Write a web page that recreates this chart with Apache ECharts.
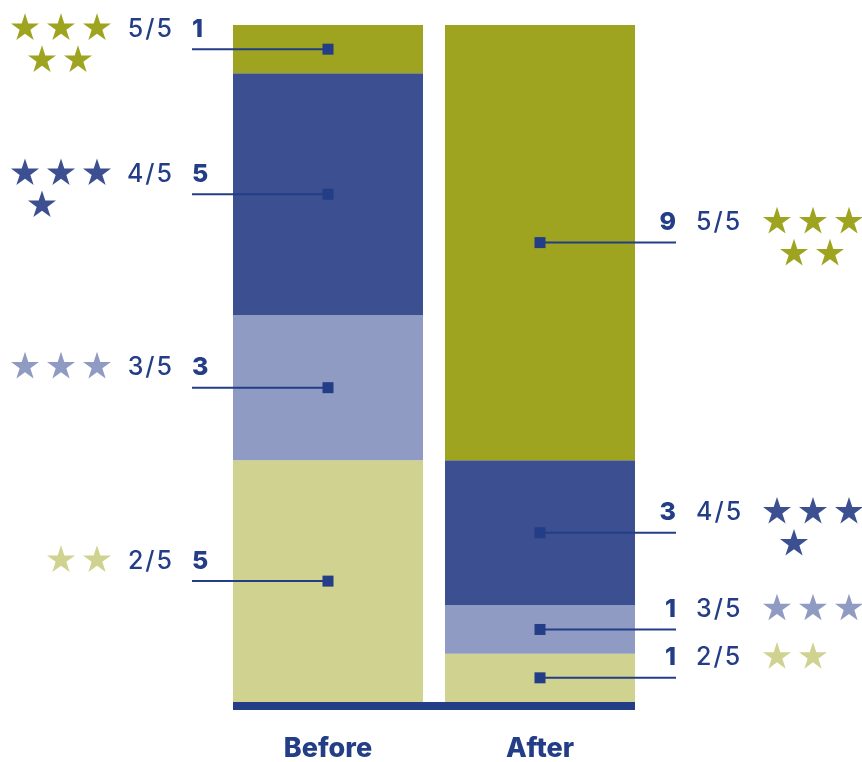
<!DOCTYPE html>
<html>
<head>
<meta charset="utf-8">
<script src="https://cdn.jsdelivr.net/npm/echarts@6/dist/echarts.min.js"></script>
<style>
html,body{margin:0;padding:0;background:#fff;}
#chart{width:862px;height:762px;}
</style>
</head>
<body>
<div id="chart"></div>
<script>
// ---- data ----
const categories = ['Before', 'After'];
const ratingLabels = ['2/5', '3/5', '4/5', '5/5'];
const starCounts = [2, 3, 4, 5];
const rating2 = [5, 1];
const rating3 = [3, 1];
const rating4 = [5, 3];
const rating5 = [1, 9];

// ---- styles ----
const colors = ['#D0D28F', '#8F9BC2', '#3B4F91', '#9EA41F'];
const textColor = '#233D86';
const FONT = 'Inter, "Noto Sans", sans-serif';
const STAR = 'M0,-1 L0.2245,-0.309 L0.9511,-0.309 L0.3633,0.118 L0.5878,0.809 L0,0.382 L-0.5878,0.809 L-0.3633,0.118 L-0.9511,-0.309 L-0.2245,-0.309 Z';
const BAR_W = 190;

const seriesValues = [rating2, rating3, rating4, rating5];

// annotation data: [catIndex, lo, hi, stars, ratingIndex, value]
const annData = [];
categories.forEach((c, i) => {
  let cum = 0;
  seriesValues.forEach((vals, r) => {
    const v = vals[i];
    annData.push([i, cum, cum + v, starCounts[r], r, v]);
    cum += v;
  });
});

const chart = echarts.init(document.getElementById('chart'));

const barSeries = seriesValues.map((vals, r) => ({
  name: ratingLabels[r],
  type: 'bar',
  stack: 'total',
  barWidth: BAR_W,
  data: vals,
  itemStyle: { color: colors[r] },
  emphasis: { disabled: true },
  silent: true
}));

const baseSeries = {
  type: 'custom',
  silent: true,
  z: 5,
  data: [[0, 0]],
  renderItem: function (params, api) {
    const a = api.coord([0, 0]);
    const b = api.coord([categories.length - 1, 0]);
    return {
      type: 'rect',
      shape: { x: a[0] - BAR_W / 2, y: a[1], width: (b[0] - a[0]) + BAR_W, height: 8 },
      style: { fill: '#233E86' }
    };
  }
};

const annSeries = {
  type: 'custom',
  silent: true,
  z: 10,
  clip: false,
  data: annData,
  renderItem: function (params, api) {
    const cat = api.value(0);
    const lo = api.value(1), hi = api.value(2);
    const n = api.value(3), r = api.value(4), v = api.value(5);
    const p = api.coord([cat, (lo + hi) / 2]);
    const side = cat === 0 ? -1 : 1;
    const ty = p[1] - 20;
    const parts = ratingLabels[r].split('/');
    const children = [
      { type: 'line', shape: { x1: p[0], y1: p[1], x2: p[0] + side * 136, y2: p[1] },
        style: { stroke: textColor, lineWidth: 2 } },
      { type: 'rect', shape: { x: p[0] - 5.5, y: p[1] - 5.5, width: 11, height: 11 },
        style: { fill: textColor } },
      { type: 'text', x: p[0] + side * 136, y: ty,
        style: { text: String(v), fill: textColor, fontSize: 25, fontWeight: 800, fontFamily: 'Inter',
          align: side < 0 ? 'left' : 'right', verticalAlign: 'middle' } },
      { type: 'text', x: p[0] + side * 156, y: ty,
        style: { text: '{d|' + parts[0] + '}{s|/}{d|' + parts[1] + '}',
          align: side < 0 ? 'right' : 'left', verticalAlign: 'middle',
          rich: {
            d: { fill: textColor, fontSize: 25, fontWeight: 500, fontFamily: 'Inter' },
            s: { fill: textColor, fontSize: 25, fontWeight: 500, fontFamily: 'Inter', padding: [0, 2, 0, 2] }
          } } }
    ];
    const row0 = Math.min(n, 3);
    for (let k = 0; k < n; k++) {
      const row = k < 3 ? 0 : 1;
      const col = row === 0 ? k : k - 3;
      let x;
      if (side < 0) {
        x = p[0] - 231 - (row0 - 1 - col) * 36;
      } else {
        x = p[0] + 237 + col * 36;
      }
      if (row === 1) x += 17;
      const y = p[1] - 22 + row * 32;
      children.push({
        type: 'path',
        shape: { pathData: STAR, x: x - 14, y: y - 14, width: 28, height: 27 },
        style: { fill: colors[r] }
      });
    }
    return { type: 'group', children: children };
  }
};

chart.setOption({
  animation: false,
  grid: { left: 222, right: 216, top: 25, bottom: 59 },
  xAxis: {
    type: 'category',
    data: categories,
    axisLine: { show: false },
    axisTick: { show: false },
    axisLabel: { color: textColor, fontSize: 27, fontWeight: 800, fontFamily: 'Inter', margin: 33 }
  },
  yAxis: {
    type: 'value',
    min: 0,
    max: 14,
    show: false,
    splitLine: { show: false }
  },
  series: barSeries.concat([baseSeries, annSeries])
});
</script>
</body>
</html>
